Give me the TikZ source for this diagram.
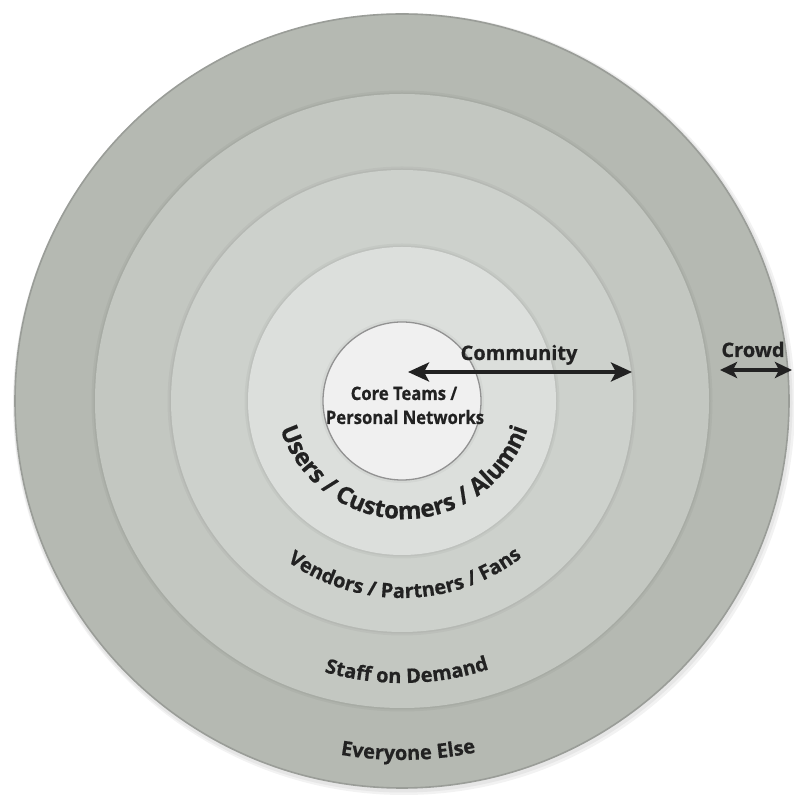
\documentclass[tikz,border=0pt]{standalone}
\usepackage{fontspec}
\setmainfont{Open Sans}[BoldFeatures={FakeBold=0.6}]
\newfontfamily\narrowfont{Open Sans}[FakeStretch=0.9, BoldFeatures={FakeBold=0.6}]
\usetikzlibrary{arrows.meta,decorations.text}

\definecolor{ringE}{HTML}{B5B9B2}
\definecolor{ringD}{HTML}{C3C7C1}
\definecolor{ringC}{HTML}{CDD1CC}
\definecolor{ringB}{HTML}{DCDFDC}
\definecolor{coreA}{HTML}{F0F0F0}
\definecolor{edgeE}{HTML}{9A9D98}
\definecolor{edgeA}{HTML}{929292}
\definecolor{ink}{HTML}{222222}

\tikzset{
  lbl/.style={font=\bfseries\fontsize{20}{20}\selectfont, text=ink, inner sep=0pt},
  corelbl/.style={font=\narrowfont\bfseries\fontsize{18.5}{18.5}\selectfont, text=ink, inner sep=0pt},
  bigtip/.tip={Stealth[length=21pt, width=19pt, inset=5pt]},
  smalltip/.tip={Stealth[length=17pt, width=16pt, inset=4pt]},
  arr/.style={line width=3.6pt, draw=ink},
  softedge/.style={fill=black, opacity=0.035},
  arctext/.style 2 args={decorate, decoration={text along path, text align=center,
      text={|\bfseries\fontsize{#1}{#1}\selectfont\color{ink}|#2}}}
}

\begin{document}
\begin{tikzpicture}[x=1pt,y=1pt]
\useasboundingbox (0,0) rectangle (793,795);
\coordinate (C) at (402,394);

% faint drop shadow under the outer disk
\fill[black, opacity=0.05] ([shift={(2,-3)}]C) circle (391);
\fill[black, opacity=0.05] ([shift={(1,-2)}]C) circle (389.5);

% outer disk
\fill[ringE, draw=edgeE, line width=1.6pt] (C) circle (387);

% inner disks, each with a soft darker rim
\foreach \r/\c in {307/ringD, 231/ringC, 154/ringB} {
  \fill[softedge] (C) circle (\r+3.5);
  \fill[softedge] (C) circle (\r+1.5);
  \fill[\c] (C) circle (\r);
}

% core disk
\fill[softedge] (C) circle (82);
\fill[coreA, draw=edgeA, line width=1.3pt] (C) circle (79);

% ring captions set along arcs
\path[arctext={24}{Users / Customers / Alumni}]
  ([shift={(190:130)}]404,406) arc[start angle=190, end angle=350, radius=130];
\path[arctext={20}{Vendors / Partners / Fans}]
  ([shift={(221:197)}]C) arc[start angle=221, end angle=321, radius=197];
\path[arctext={20}{Staff on Demand}]
  ([shift={(241:282)}]C) arc[start angle=241, end angle=301, radius=282];
\path[arctext={20}{Everyone Else}]
  ([shift={(251:359)}]C) arc[start angle=251, end angle=291, radius=359];

% core caption
\node[corelbl, anchor=base] (core1) at (404,395) {Core Teams /};
\node[corelbl, anchor=base] (core2) at (405,371) {Personal Networks};

% range labels and arrows
\node[lbl, anchor=base] (community) at (519,435) {Community};
\node[lbl, anchor=base] (crowd) at (753,438) {Crowd};

\coordinate (commL) at (408,423);
\coordinate (commR) at (632,423);
\coordinate (crowdL) at (720,425);
\coordinate (crowdR) at (792,425);

\draw[arr, bigtip-bigtip] (commL) -- (commR);
\draw[arr, smalltip-smalltip] (crowdL) -- (crowdR);
\end{tikzpicture}
\end{document}
